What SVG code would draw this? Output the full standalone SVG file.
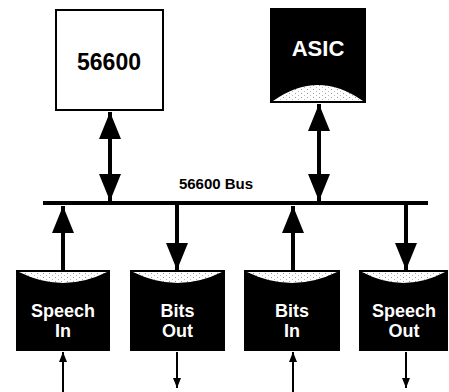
<svg xmlns="http://www.w3.org/2000/svg" width="449" height="392" viewBox="0 0 449 392">
<style>
.lbl{font-family:"Liberation Sans",Arial,sans-serif;font-weight:bold;text-anchor:middle}
.blk{fill:#000}
.lens{fill:url(#stip)}
.big{stroke:#000;stroke-width:4;fill:none;marker-start:url(#bh);marker-end:url(#bh)}
.bigE{stroke:#000;stroke-width:4;fill:none;marker-end:url(#bh)}
.sm{stroke:#000;stroke-width:2;fill:none;marker-end:url(#sh)}
</style>
<defs>
<pattern id="stip" width="6" height="4" patternUnits="userSpaceOnUse">
<rect width="6" height="4" fill="#fff"/>
<rect x="1" y="1" width="1" height="1" fill="#999"/>
<rect x="4" y="3" width="1" height="1" fill="#bbb"/>
</pattern>
<marker id="bh" viewBox="0 0 27 22" refX="27" refY="11" markerWidth="27" markerHeight="22" markerUnits="userSpaceOnUse" orient="auto-start-reverse">
<path d="M0,0 L27,11 L0,22 z" fill="#000"/>
</marker>
<marker id="sh" viewBox="0 0 10 8" refX="10" refY="4" markerWidth="10" markerHeight="8" markerUnits="userSpaceOnUse" orient="auto">
<path d="M0,0 L10,4 L0,8 z" fill="#000"/>
</marker>
</defs>
<rect width="449" height="392" fill="#fff"/>
<g id="n56600">
<rect x="56" y="10" width="107" height="100" fill="#fff" stroke="#000" stroke-width="2"/>
<text class="lbl" x="109" y="70" font-size="23">56600</text>
</g>
<g id="asic">
<rect x="270" y="8" width="96" height="95" class="blk"/>
<path d="M273,101 Q318,69 363,101 Z" class="lens"/>
<text class="lbl" x="318" y="56" font-size="22" fill="#fff">ASIC</text>
</g>
<g id="bus">
<line x1="43" y1="203" x2="428" y2="203" stroke="#000" stroke-width="4"/>
<text class="lbl" x="216" y="189" font-size="15">56600 Bus</text>
</g>
<g id="speechIn">
<rect x="16" y="270" width="94" height="81" class="blk"/>
<path d="M19,272 L107,272 Q63,294 19,272 Z" class="lens"/>
<text class="lbl" x="63" y="317" font-size="18" fill="#fff">Speech</text>
<text class="lbl" x="63" y="337" font-size="18" fill="#fff">In</text>
</g>
<g id="bitsOut">
<rect x="130" y="270" width="95" height="81" class="blk"/>
<path d="M133,272 L222,272 Q177.5,294 133,272 Z" class="lens"/>
<text class="lbl" x="177.5" y="317" font-size="18" fill="#fff">Bits</text>
<text class="lbl" x="177.5" y="337" font-size="18" fill="#fff">Out</text>
</g>
<g id="bitsIn">
<rect x="244" y="270" width="96" height="81" class="blk"/>
<path d="M247,272 L337,272 Q292,294 247,272 Z" class="lens"/>
<text class="lbl" x="292" y="317" font-size="18" fill="#fff">Bits</text>
<text class="lbl" x="292" y="337" font-size="18" fill="#fff">In</text>
</g>
<g id="speechOut">
<rect x="359" y="270" width="89" height="81" class="blk"/>
<path d="M362,272 L445,272 Q403.5,294 362,272 Z" class="lens"/>
<text class="lbl" x="404" y="317" font-size="18" fill="#fff">Speech</text>
<text class="lbl" x="404" y="337" font-size="18" fill="#fff">Out</text>
</g>
<g id="connectors">
<line class="big" x1="110" y1="112" x2="110" y2="201"/>
<line class="big" x1="319" y1="104" x2="319" y2="201"/>
<line class="bigE" x1="63" y1="270" x2="63" y2="206"/>
<line class="bigE" x1="177" y1="205" x2="177" y2="270"/>
<line class="bigE" x1="293" y1="270" x2="293" y2="206"/>
<line class="bigE" x1="406" y1="205" x2="406" y2="270"/>
<line class="sm" x1="63" y1="392" x2="63" y2="352"/>
<line class="sm" x1="177" y1="352" x2="177" y2="388"/>
<line class="sm" x1="293" y1="392" x2="293" y2="352"/>
<line class="sm" x1="406" y1="352" x2="406" y2="388"/>
</g>
</svg>
